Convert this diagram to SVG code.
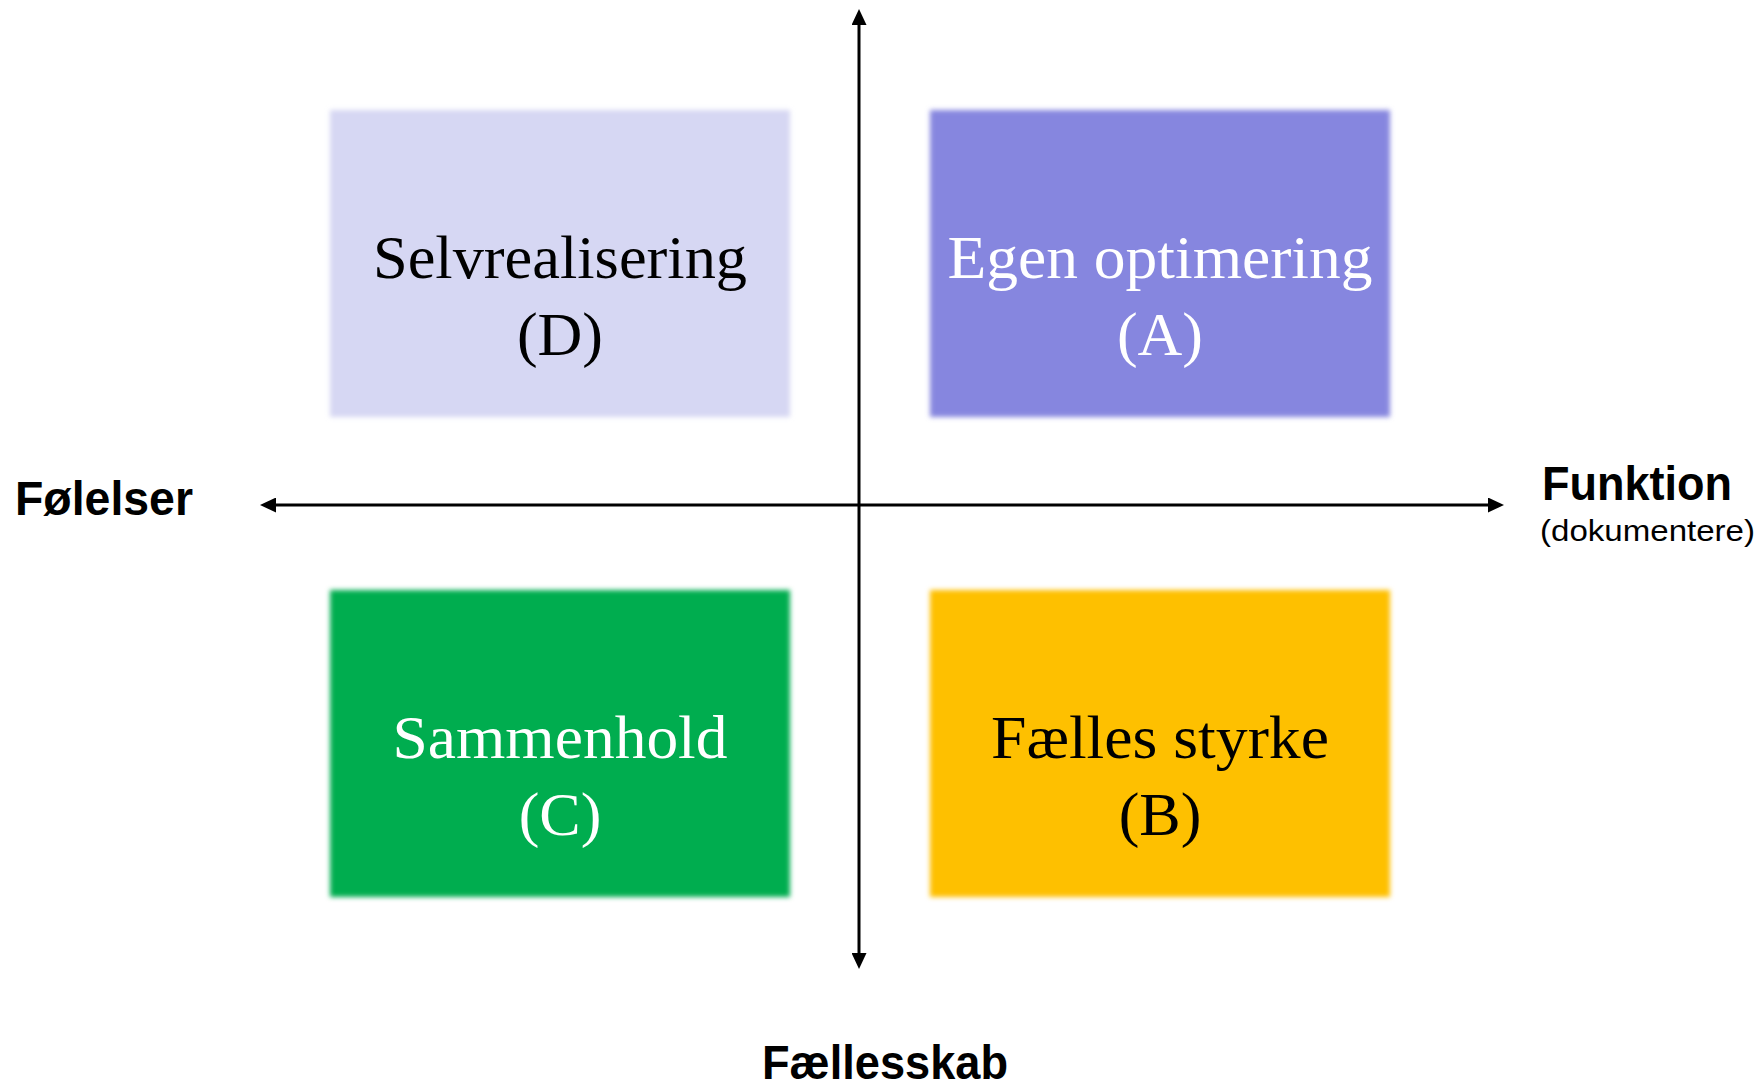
<svg xmlns="http://www.w3.org/2000/svg" width="1760" height="1090" viewBox="0 0 1760 1090">
<style>
.box{filter:url(#soft)}
.lbl{font-family:"Liberation Serif","Times New Roman",serif;font-size:62px;text-anchor:middle}
.ax{font-family:"Comic Sans MS","Liberation Sans",Arial,sans-serif;font-weight:bold;font-size:48px;fill:#000}
.sub{font-family:"Comic Sans MS","Liberation Sans",Arial,sans-serif;font-size:30px;fill:#000}
.axis{stroke:#000;stroke-width:3;fill:none;marker-start:url(#ah);marker-end:url(#ah)}
</style>
<defs>
<filter id="soft" x="-5%" y="-5%" width="110%" height="110%"><feGaussianBlur stdDeviation="2.5"/></filter>
<marker id="ah" markerUnits="userSpaceOnUse" viewBox="0 0 16 15" markerWidth="16" markerHeight="15" refX="0" refY="7.5" orient="auto-start-reverse"><path d="M0,0 L16,7.5 L0,15 z" fill="#000"/></marker>
</defs>
<rect width="1760" height="1090" fill="#fff"/>
<g id="node-D">
<rect class="box" x="330" y="110" width="460" height="307" fill="#D6D7F3"/>
<text class="lbl" x="560" y="278" fill="#000" textLength="374" lengthAdjust="spacingAndGlyphs">Selvrealisering</text>
<text class="lbl" x="560" y="355" fill="#000">(D)</text>
</g>
<g id="node-A">
<rect class="box" x="930" y="110" width="460" height="307" fill="#8686DF"/>
<text class="lbl" x="1160" y="278" fill="#fff" textLength="425" lengthAdjust="spacingAndGlyphs">Egen optimering</text>
<text class="lbl" x="1160" y="355" fill="#fff">(A)</text>
</g>
<g id="node-C">
<rect class="box" x="330" y="590" width="460" height="307" fill="#00AD4F"/>
<text class="lbl" x="560" y="758" fill="#fff" textLength="335" lengthAdjust="spacingAndGlyphs">Sammenhold</text>
<text class="lbl" x="560" y="835" fill="#fff">(C)</text>
</g>
<g id="node-B">
<rect class="box" x="930" y="590" width="460" height="307" fill="#FEC000"/>
<text class="lbl" x="1160" y="758" fill="#000" textLength="338" lengthAdjust="spacingAndGlyphs">Fælles styrke</text>
<text class="lbl" x="1160" y="835" fill="#000">(B)</text>
</g>
<g id="connectors">
<line class="axis" x1="859" y1="25" x2="859" y2="953"/>
<line class="axis" x1="276" y1="505" x2="1488" y2="505"/>
</g>
<g id="axis-labels">
<text class="ax" x="15" y="515" textLength="178" lengthAdjust="spacingAndGlyphs">Følelser</text>
<text class="ax" x="1542" y="500" textLength="190" lengthAdjust="spacingAndGlyphs">Funktion</text>
<text class="sub" x="1540" y="541" textLength="215" lengthAdjust="spacingAndGlyphs">(dokumentere)</text>
<text class="ax" x="762" y="1079" font-size="46" textLength="246" lengthAdjust="spacingAndGlyphs">Fællesskab</text>
</g>
</svg>
